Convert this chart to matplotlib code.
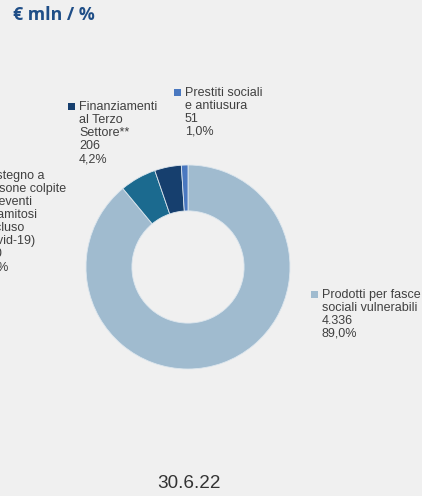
import matplotlib.pyplot as plt
from matplotlib.patches import Rectangle

W, H = 422, 496

# data
labels = [['Prodotti per fasce', 'sociali vulnerabili'],
          ['Sostegno a', 'persone colpite', 'da eventi', 'calamitosi', '(incluso', 'Covid-19)'],
          ['Finanziamenti', 'al Terzo', 'Settore**'],
          ['Prestiti sociali', 'e antiusura']]
values = [4336, 280, 206, 51]
value_txt = ['4.336', '280', '206', '51']
pct_txt = ['89,0%', '5,8%', '4,2%', '1,0%']
colors = ['#a0bbcf', '#1b6a8f', '#163f6e', '#4a78c0']

# label anchors in pixels: (marker left, first line centre y)
label_pos = [(311, 295), (-30, 176), (68, 107), (174, 93)]

bg = '#f0f0f0'
txtcol = '#404040'

fig = plt.figure(figsize=(W / 100, H / 100), dpi=100)
fig.set_facecolor(bg)

cx, cy, r = 188, 267, 102
ax = fig.add_axes([(cx - r) / W, 1 - (cy + r) / H, 2 * r / W, 2 * r / H])
ax.set_facecolor(bg)
ax.pie(values, colors=colors, startangle=90, counterclock=False, radius=1,
       wedgeprops={'width': 0.45, 'linewidth': 0.6, 'edgecolor': '#dce6ee'})
ax.set_xlim(-1, 1)
ax.set_ylim(-1, 1)
ax.set_aspect('equal')
ax.axis('off')

fig.text(13 / W, 1 - 15 / H, '€ mln / %', fontsize=12.8, fontweight='bold',
         color='#1f4e87', family='Open Sans', va='center', ha='left')

for lab, v, p, c, (mx, my) in zip(labels, value_txt, pct_txt, colors, label_pos):
    fig.patches.append(Rectangle((mx / W, 1 - (my + 3) / H), 7 / W, 7 / H,
                                 transform=fig.transFigure, facecolor=c,
                                 edgecolor='none'))
    lines = lab + [v, p]
    for i, t in enumerate(lines):
        fig.text((mx + 11) / W, 1 - (my + i * 13) / H, t, fontsize=9,
                 family='Liberation Sans', color=txtcol, va='center', ha='left')

fig.text(189 / W, 1 - 484 / H, '30.6.22', fontsize=13.6, family='Liberation Sans',
         color='#333333', ha='center', va='center')

fig.savefig('out.png', dpi=100, facecolor=bg)
